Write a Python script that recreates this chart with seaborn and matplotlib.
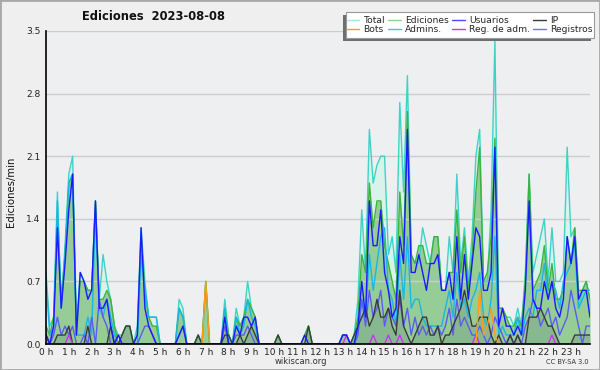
import numpy as np
import matplotlib
matplotlib.use("Agg")
import matplotlib.pyplot as plt
import seaborn as sns
from matplotlib.lines import Line2D
from matplotlib.patches import Rectangle

# ---- data: edits per minute, 10-minute bins (144 per day) ----
total = [
    0.8, 0.2, 0.3, 1.7, 0.4, 1.1, 1.9, 2.1, 0.2, 0.8, 0.7, 0.6,
    0.6, 1.6, 0.5, 1.0, 0.7, 0.5, 0.2, 0.1, 0.1, 0.2, 0.2, 0.0,
    0.2, 1.3, 0.7, 0.3, 0.3, 0.3, 0.0, 0.0, 0.0, 0.0, 0.0, 0.5,
    0.4, 0.0, 0.0, 0.0, 0.1, 0.0, 0.7, 0.0, 0.0, 0.0, 0.0, 0.5,
    0.1, 0.0, 0.4, 0.2, 0.3, 0.7, 0.4, 0.3, 0.0, 0.0, 0.0, 0.0,
    0.0, 0.1, 0.0, 0.0, 0.0, 0.0, 0.0, 0.0, 0.1, 0.2, 0.0, 0.0,
    0.0, 0.0, 0.0, 0.0, 0.0, 0.0, 0.1, 0.1, 0.0, 0.1, 0.5, 1.5,
    0.8, 2.4, 1.8, 2.0, 2.1, 2.1, 1.0, 1.2, 0.8, 2.7, 1.7, 3.0,
    1.0, 0.9, 0.9, 1.3, 1.1, 0.9, 1.2, 1.2, 0.6, 0.6, 1.2, 0.8,
    1.9, 0.9, 1.3, 0.7, 1.2, 2.1, 2.4, 0.7, 0.7, 1.5, 3.4, 0.4,
    0.4, 0.3, 0.3, 0.2, 0.4, 0.2, 0.8, 1.9, 0.8, 1.0, 1.2, 1.4,
    0.7, 1.3, 0.7, 0.7, 0.8, 2.2, 1.2, 1.3, 0.4, 0.6, 0.7, 0.5,
]
ediciones = [
    0.2, 0.1, 0.3, 1.4, 0.5, 1.0, 1.8, 1.9, 0.1, 0.7, 0.7, 0.6,
    0.6, 1.6, 0.5, 0.5, 0.6, 0.5, 0.2, 0.0, 0.1, 0.2, 0.2, 0.0,
    0.1, 1.2, 0.6, 0.3, 0.2, 0.2, 0.0, 0.0, 0.0, 0.0, 0.0, 0.4,
    0.3, 0.0, 0.0, 0.0, 0.1, 0.0, 0.7, 0.0, 0.0, 0.0, 0.0, 0.4,
    0.1, 0.0, 0.3, 0.2, 0.3, 0.5, 0.4, 0.3, 0.0, 0.0, 0.0, 0.0,
    0.0, 0.1, 0.0, 0.0, 0.0, 0.0, 0.0, 0.0, 0.1, 0.2, 0.0, 0.0,
    0.0, 0.0, 0.0, 0.0, 0.0, 0.0, 0.1, 0.1, 0.0, 0.1, 0.3, 1.0,
    0.8, 1.8, 1.3, 1.6, 1.6, 1.1, 0.9, 0.7, 0.5, 1.7, 1.1, 2.6,
    1.0, 0.9, 1.1, 1.1, 0.9, 0.9, 1.2, 1.2, 0.6, 0.6, 0.8, 0.8,
    1.5, 0.8, 1.2, 0.6, 1.0, 1.7, 2.2, 0.7, 0.8, 1.2, 2.3, 0.4,
    0.4, 0.3, 0.2, 0.2, 0.3, 0.2, 0.7, 1.9, 0.6, 0.7, 0.8, 1.1,
    0.6, 0.9, 0.5, 0.5, 0.6, 1.2, 0.9, 1.3, 0.6, 0.6, 0.7, 0.5,
]
usuarios = [
    0.1, 0.0, 0.2, 1.3, 0.4, 0.9, 1.5, 1.9, 0.1, 0.8, 0.7, 0.5,
    0.6, 1.6, 0.4, 0.4, 0.5, 0.2, 0.0, 0.1, 0.0, 0.0, 0.0, 0.0,
    0.1, 1.3, 0.4, 0.2, 0.1, 0.0, 0.0, 0.0, 0.0, 0.0, 0.0, 0.1,
    0.2, 0.0, 0.0, 0.0, 0.0, 0.0, 0.0, 0.0, 0.0, 0.0, 0.0, 0.3,
    0.0, 0.0, 0.2, 0.1, 0.3, 0.3, 0.2, 0.3, 0.0, 0.0, 0.0, 0.0,
    0.0, 0.0, 0.0, 0.0, 0.0, 0.0, 0.0, 0.0, 0.1, 0.0, 0.0, 0.0,
    0.0, 0.0, 0.0, 0.0, 0.0, 0.0, 0.1, 0.1, 0.0, 0.0, 0.2, 0.7,
    0.3, 1.6, 1.1, 1.1, 1.5, 0.8, 0.6, 0.3, 0.4, 1.2, 0.9, 2.4,
    0.8, 0.8, 1.0, 0.8, 0.6, 0.9, 0.9, 1.0, 0.6, 0.6, 0.8, 0.5,
    1.2, 0.5, 1.0, 0.5, 0.9, 1.3, 1.2, 0.6, 0.6, 0.8, 2.2, 0.2,
    0.4, 0.2, 0.2, 0.1, 0.2, 0.1, 0.6, 1.6, 0.5, 0.4, 0.4, 0.7,
    0.5, 0.7, 0.4, 0.3, 0.5, 1.2, 0.9, 1.2, 0.5, 0.6, 0.6, 0.3,
]
ip = [
    0.1, 0.0, 0.0, 0.1, 0.1, 0.1, 0.2, 0.0, 0.0, 0.0, 0.0, 0.2,
    0.0, 0.0, 0.0, 0.0, 0.0, 0.2, 0.0, 0.0, 0.1, 0.2, 0.2, 0.0,
    0.0, 0.0, 0.0, 0.0, 0.0, 0.0, 0.0, 0.0, 0.0, 0.0, 0.0, 0.0,
    0.0, 0.0, 0.0, 0.0, 0.1, 0.0, 0.0, 0.0, 0.0, 0.0, 0.0, 0.1,
    0.1, 0.0, 0.0, 0.1, 0.0, 0.1, 0.2, 0.1, 0.0, 0.0, 0.0, 0.0,
    0.0, 0.1, 0.0, 0.0, 0.0, 0.0, 0.0, 0.0, 0.0, 0.2, 0.0, 0.0,
    0.0, 0.0, 0.0, 0.0, 0.0, 0.0, 0.0, 0.0, 0.0, 0.1, 0.2, 0.3,
    0.4, 0.2, 0.3, 0.5, 0.3, 0.3, 0.4, 0.2, 0.1, 0.6, 0.2, 0.1,
    0.0, 0.1, 0.2, 0.3, 0.3, 0.1, 0.1, 0.2, 0.0, 0.1, 0.1, 0.2,
    0.3, 0.4, 0.6, 0.4, 0.2, 0.2, 0.3, 0.3, 0.3, 0.1, 0.0, 0.1,
    0.0, 0.0, 0.1, 0.0, 0.1, 0.0, 0.0, 0.3, 0.3, 0.3, 0.4, 0.3,
    0.2, 0.2, 0.1, 0.0, 0.0, 0.0, 0.0, 0.1, 0.1, 0.1, 0.1, 0.1,
]
admins = [
    0.7, 0.1, 0.2, 1.6, 0.4, 1.0, 1.8, 1.9, 0.1, 0.1, 0.1, 0.3,
    0.1, 1.5, 0.4, 0.3, 0.5, 0.3, 0.1, 0.0, 0.0, 0.0, 0.0, 0.0,
    0.0, 1.0, 0.6, 0.3, 0.3, 0.3, 0.0, 0.0, 0.0, 0.0, 0.0, 0.4,
    0.3, 0.0, 0.0, 0.0, 0.0, 0.0, 0.0, 0.0, 0.0, 0.0, 0.0, 0.4,
    0.0, 0.0, 0.3, 0.1, 0.2, 0.5, 0.3, 0.2, 0.0, 0.0, 0.0, 0.0,
    0.0, 0.0, 0.0, 0.0, 0.0, 0.0, 0.0, 0.0, 0.0, 0.0, 0.0, 0.0,
    0.0, 0.0, 0.0, 0.0, 0.0, 0.0, 0.0, 0.0, 0.0, 0.0, 0.2, 0.5,
    0.3, 1.0, 0.6, 0.9, 1.2, 1.3, 0.6, 0.5, 0.2, 1.0, 0.5, 1.2,
    0.4, 0.5, 0.5, 0.3, 0.2, 0.2, 0.2, 0.2, 0.2, 0.4, 0.6, 0.3,
    0.8, 0.4, 0.5, 0.3, 0.5, 0.6, 0.8, 0.3, 0.2, 0.5, 1.2, 0.1,
    0.2, 0.1, 0.1, 0.1, 0.3, 0.1, 0.3, 0.4, 0.3, 0.6, 0.6, 0.9,
    0.5, 0.7, 0.6, 0.4, 0.7, 0.8, 0.9, 1.1, 0.4, 0.5, 0.6, 0.6,
]
registros = [
    0.1, 0.0, 0.1, 0.3, 0.1, 0.2, 0.1, 0.2, 0.0, 0.0, 0.1, 0.0,
    0.3, 0.0, 0.5, 0.3, 0.2, 0.0, 0.0, 0.1, 0.0, 0.0, 0.0, 0.0,
    0.0, 0.1, 0.2, 0.2, 0.1, 0.0, 0.0, 0.0, 0.0, 0.0, 0.0, 0.1,
    0.2, 0.0, 0.0, 0.0, 0.0, 0.0, 0.0, 0.0, 0.0, 0.0, 0.0, 0.2,
    0.0, 0.0, 0.1, 0.1, 0.1, 0.2, 0.1, 0.0, 0.0, 0.0, 0.0, 0.0,
    0.0, 0.0, 0.0, 0.0, 0.0, 0.0, 0.0, 0.0, 0.0, 0.0, 0.0, 0.0,
    0.0, 0.0, 0.0, 0.0, 0.0, 0.0, 0.1, 0.1, 0.0, 0.0, 0.1, 0.5,
    0.2, 0.6, 0.3, 0.4, 0.6, 0.2, 0.4, 0.3, 0.2, 0.5, 0.2, 0.4,
    0.1, 0.3, 0.1, 0.2, 0.1, 0.2, 0.1, 0.2, 0.1, 0.2, 0.4, 0.1,
    0.5, 0.2, 0.3, 0.2, 0.1, 0.1, 0.2, 0.1, 0.0, 0.1, 0.3, 0.2,
    0.1, 0.0, 0.1, 0.0, 0.1, 0.0, 0.2, 0.3, 0.5, 0.4, 0.2, 0.3,
    0.4, 0.2, 0.3, 0.1, 0.2, 0.3, 0.6, 0.4, 0.2, 0.0, 0.2, 0.2,
]
# sparse series: (bin index, value)
bots_bins = [42, 114, 115, 116, 117, 118]
bots_vals = [0.7, 0.6, 0.1, 0.2, 0.4, 0.1]
regadm_bins = [6, 79, 86, 90, 93, 113, 133]
regadm_vals = [0.1, 0.1, 0.1, 0.1, 0.1, 0.1, 0.1]

legend_labels = ["Total", "Bots", "Ediciones", "Admins.",
                 "Usuarios", "Reg. de adm.", "IP", "Registros"]
hour_labels = [f"{h} h" for h in range(24)]
y_ticks = [0.0, 0.7, 1.4, 2.1, 2.8, 3.5]

n = 144
bots = [0.0] * n
for b, v in zip(bots_bins, bots_vals):
    bots[b] = v
regadm = [0.0] * n
for b, v in zip(regadm_bins, regadm_vals):
    regadm[b] = v
hours = [i / 6 for i in range(n)]
for s in (total, ediciones, usuarios, ip, admins, registros):
    assert len(s) == n

# ---- style ----
sns.set_style("white")
plt.rcParams['font.family'] = ['DejaVu Sans']

C_TOTAL = '#3fd3c6'
C_EDIC = '#3cb43c'
C_USU = '#1a1aff'
C_IP = '#3a3a3a'
C_BOTS = '#ff9a1a'
C_ADM = '#1ab6e6'
C_REGADM = '#cc33ee'
C_REG = '#5c5cf0'

W, H = 600, 370
fig = plt.figure(figsize=(6, 3.7), dpi=100, facecolor='#efefef')
ax = fig.add_axes([46 / W, 26 / H, 544 / W, 313 / H])
ax.set_facecolor('#eeeff1')

# fills
ax.fill_between(hours, total, color='#daf3ea', lw=0, zorder=1)
ax.fill_between(hours, ediciones, color='#96cc96', lw=0, zorder=1.5)
ax.fill_between(hours, ip, color='#5f7f80', alpha=0.25, lw=0, zorder=1.7)

series = [
    (total, C_TOTAL, 3.0),
    (ediciones, C_EDIC, 3.1),
    (admins, C_ADM, 3.2),
    (registros, C_REG, 3.3),
    (ip, C_IP, 3.4),
    (regadm, C_REGADM, 3.5),
    (bots, C_BOTS, 3.6),
    (usuarios, C_USU, 3.7),
]
for vals, col, z in series:
    sns.lineplot(x=hours, y=vals, ax=ax, color=col, lw=1.0, zorder=z,
                 errorbar=None, legend=False)

ax.set_xlim(0, (n - 1) / 6)
ax.set_ylim(0, 3.5)
ax.set_xlabel('')
ax.set_ylabel('')
ax.set_yticks(y_ticks)
ax.set_yticklabels([f"{v:.1f}" for v in y_ticks])
ax.set_yticks(np.arange(0, 3.5001, 0.175), minor=True)
ax.set_xticks(range(24))
ax.set_xticklabels(hour_labels)
ax.set_xticks(np.arange(0, n) / 6, minor=True)
ax.tick_params(axis='both', which='major', length=3.5, width=1, color='black',
               labelsize=6.5, labelcolor='#222222')
ax.tick_params(axis='x', which='major', pad=-0.5)
ax.tick_params(axis='y', which='major', pad=0.5)
ax.tick_params(axis='both', which='minor', length=2.5, width=1, color='black')
ax.grid(axis='y', which='major', color='#cccccc', lw=1)
ax.set_axisbelow(False)
for s in ('top', 'right'):
    ax.spines[s].set_visible(False)
for s in ('left', 'bottom'):
    ax.spines[s].set_color('black')
    ax.spines[s].set_linewidth(1.2)
    ax.spines[s].set_zorder(5)

# texts
fig.text(154 / W, 1 - 17 / H, 'Ediciones  2023-08-08', ha='center',
         va='center', fontsize=8.3, fontweight='bold', color='#111111')
fig.text(11 / W, 1 - 192 / H, 'Ediciones/min', rotation=90, ha='center',
         va='center', fontsize=7.3, color='#111111')
fig.text(301 / W, 1 - 361 / H, 'wikiscan.org', ha='center', va='center',
         fontsize=6, color='#333333')
fig.text(589 / W, 1 - 362 / H, 'CC BY-SA 3.0', ha='right', va='center',
         fontsize=4.8, color='#333333')

# legend: shadow + frame + entries
bx0, bx1, by0, by1 = 346, 593.5, 11.7, 38.3
fig.add_artist(Rectangle(((bx0 - 3) / W, 1 - (by1 + 3) / H), (bx1 - bx0) / W,
                         (by1 - by0) / H, transform=fig.transFigure,
                         color='#6e6e6e', lw=0, zorder=4))
fig.add_artist(Rectangle((bx0 / W, 1 - by1 / H), (bx1 - bx0) / W,
                         (by1 - by0) / H, transform=fig.transFigure,
                         facecolor='white', edgecolor='#9a9a9a', lw=0.8, zorder=4.5))
leg_colors = ['#a6e6dc', C_BOTS, '#8fd48f', '#45c6dc', '#4a4aff', C_REGADM, C_IP, '#7070ee']
handles = [Line2D([], [], color=c, lw=1) for c in leg_colors]
leg = fig.legend(handles, legend_labels, ncol=4, loc='center',
                 bbox_to_anchor=((bx0 + bx1) / 2 / W, 1 - (by0 + by1) / 2 / H),
                 fontsize=6.6, frameon=False, handlelength=1.35,
                 handletextpad=0.5, columnspacing=0.35, labelspacing=0.05,
                 borderpad=0.0, borderaxespad=0)
leg.set_zorder(6)

# figure border
fig.add_artist(Rectangle((0, 0), 1, 1, transform=fig.transFigure, fill=False,
                         edgecolor='#a8a8a8', lw=2))

fig.savefig('out.png', dpi=100, facecolor=fig.get_facecolor())
